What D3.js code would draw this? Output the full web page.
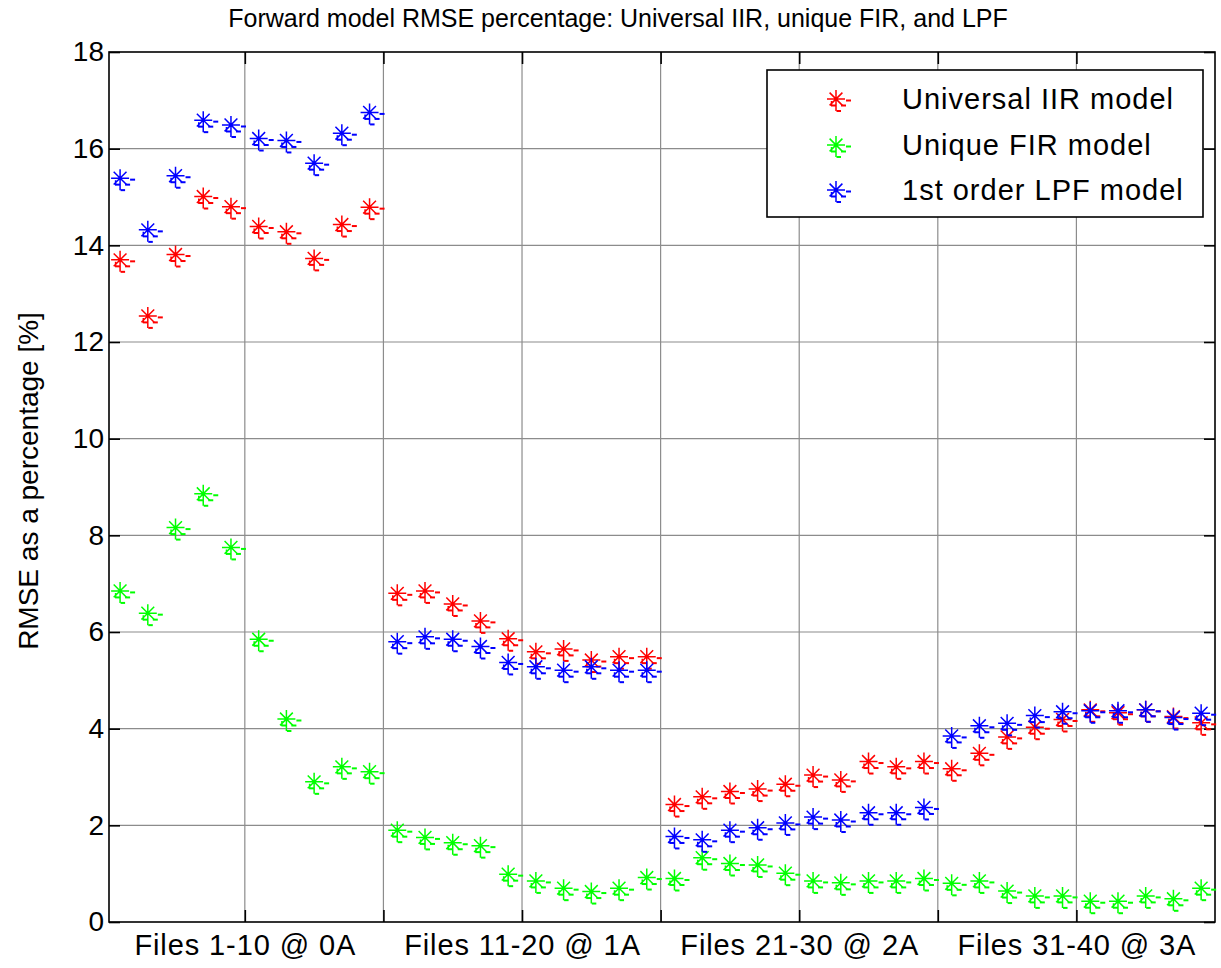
<!DOCTYPE html>
<html><head><meta charset="utf-8">
<script src="https://cdn.jsdelivr.net/npm/d3@7/dist/d3.min.js"></script>
<style>
body{margin:0;background:#fff}
text{font-family:"Liberation Sans",Arial,sans-serif;fill:#000}
</style></head>
<body>
<svg id="chart" width="1221" height="968"></svg>
<script>
// ---- data ----
const fileIndex = [1,2,3,4,5,6,7,8,9,10,11,12,13,14,15,16,17,18,19,20,
                   21,22,23,24,25,26,27,28,29,30,31,32,33,34,35,36,37,38,39,40];
const iirValues = [13.70,12.54,13.81,15.01,14.80,14.39,14.28,13.73,14.43,14.79,
                   6.80,6.85,6.58,6.23,5.86,5.59,5.65,5.42,5.49,5.49,
                   2.43,2.59,2.70,2.75,2.85,3.04,2.94,3.32,3.21,3.32,
                   3.17,3.49,3.83,4.03,4.19,4.39,4.33,4.39,4.25,4.12];
const firValues = [6.85,6.39,8.16,8.86,7.75,5.85,4.20,2.90,3.21,3.11,
                   1.90,1.75,1.64,1.58,0.99,0.85,0.70,0.63,0.70,0.92,
                   0.90,1.33,1.21,1.18,1.01,0.85,0.81,0.85,0.85,0.90,
                   0.80,0.85,0.64,0.54,0.54,0.43,0.43,0.54,0.48,0.70];
const lpfValues = [15.39,14.32,15.44,16.59,16.49,16.21,16.17,15.70,16.32,16.75,
                   5.80,5.90,5.85,5.70,5.37,5.28,5.21,5.28,5.21,5.21,
                   1.77,1.70,1.90,1.95,2.05,2.17,2.11,2.26,2.26,2.37,
                   3.85,4.06,4.11,4.27,4.35,4.37,4.37,4.39,4.23,4.32];
const seriesNames = ["Universal IIR model","Unique FIR model","1st order LPF model"];
const seriesColors = ["#ff0000","#00ff00","#0000ff"];
const xTickValues = [5.5,10.5,15.5,20.5,25.5,30.5,35.5];
const xTickLabels = ["Files 1-10 @ 0A","","Files 11-20 @ 1A","","Files 21-30 @ 2A","","Files 31-40 @ 3A"];
const yTickValues = [0,2,4,6,8,10,12,14,16,18];
const titleText = "Forward model RMSE percentage: Universal IIR, unique FIR, and LPF";
const yLabelText = "RMSE as a percentage [%]";

// ---- layout ----
const L = 109, R = 1215, T = 52, B = 922;
const svg = d3.select("#chart");
const x = d3.scaleLinear().domain([0.6, 40.5]).range([L, R]);
const y = d3.scaleLinear().domain([0, 18]).range([B, T]);

// grid
const grid = svg.append("g").attr("stroke", "#8c8c8c").attr("stroke-width", 1.2);
grid.selectAll("line.v").data(xTickValues).enter().append("line")
  .attr("x1", d => x(d)).attr("x2", d => x(d)).attr("y1", T).attr("y2", B);
grid.selectAll("line.h").data(yTickValues.filter(v => v > 0 && v < 18)).enter().append("line")
  .attr("x1", L).attr("x2", R).attr("y1", d => y(d)).attr("y2", d => y(d));

// axes
const fs = 29;
const ax = svg.append("g").attr("transform", `translate(0,${B})`)
  .call(d3.axisBottom(x).tickValues(xTickValues).tickFormat((d, i) => xTickLabels[i]).tickSizeInner(-12).tickSizeOuter(0).tickPadding(12));
const ay = svg.append("g").attr("transform", `translate(${L},0)`)
  .call(d3.axisLeft(y).tickValues(yTickValues).tickFormat(d3.format("d")).tickSizeInner(-11).tickSizeOuter(0).tickPadding(5));
const axT = svg.append("g").attr("transform", `translate(0,${T})`)
  .call(d3.axisTop(x).tickValues(xTickValues).tickFormat("").tickSizeInner(-12).tickSizeOuter(0));
const ayR = svg.append("g").attr("transform", `translate(${R},0)`)
  .call(d3.axisRight(y).tickValues(yTickValues).tickFormat("").tickSizeInner(-11).tickSizeOuter(0));
[ax, ay, axT, ayR].forEach(g => {
  g.select(".domain").remove();
  g.selectAll(".tick line").attr("stroke", "#000").attr("stroke-width", 1.6);
  g.selectAll(".tick text").attr("font-size", fs).attr("font-family", '"Liberation Sans",Arial,sans-serif').attr("fill", "#000");
});
ax.selectAll(".tick text").attr("dy", "0.71em").attr("letter-spacing", 0.9);
ay.selectAll(".tick text").attr("font-size", 28);

// box
svg.append("rect").attr("x", L).attr("y", T).attr("width", R - L).attr("height", B - T)
  .attr("fill", "none").attr("stroke", "#000").attr("stroke-width", 1.6);

// marker glyph
const starPath = "M-9,0H9M0,-9V12M-6.4,-6.4L6.4,6.4M-6.4,6.4L6.4,-6.4M-4.5,2V7";
const dashes = [[10,0.5,5,2],[-5,5.5,5,2],[5,5.5,5,2],[0.5,11,4.5,2]];
function drawMarker(g, color) {
  g.append("path").attr("d", starPath).attr("fill", "none").attr("stroke", color).attr("stroke-width", 1.5);
  dashes.forEach(r => g.append("rect").attr("x", r[0]).attr("y", r[1]).attr("width", r[2]).attr("height", r[3]).attr("fill", color));
}

const allSeries = [iirValues, firValues, lpfValues];
allSeries.forEach((vals, si) => {
  const g = svg.append("g");
  fileIndex.forEach((f, i) => {
    const m = g.append("g").attr("transform", `translate(${x(f)},${y(vals[i])})`);
    drawMarker(m, seriesColors[si]);
  });
});

// legend
const lg = svg.append("g");
lg.append("rect").attr("x", 767).attr("y", 70).attr("width", 436).attr("height", 147)
  .attr("fill", "#fff").attr("stroke", "#000").attr("stroke-width", 1.6);
const legY = [99, 145, 190];
seriesNames.forEach((n, i) => {
  const m = lg.append("g").attr("transform", `translate(836,${legY[i]})`);
  drawMarker(m, seriesColors[i]);
  lg.append("text").attr("x", 902).attr("y", legY[i] + 10).attr("font-size", fs)
    .attr("letter-spacing", 1.0).text(n);
});

// title & y label
svg.append("text").attr("x", 618).attr("y", 27).attr("text-anchor", "middle").attr("font-size", 25).text(titleText);
svg.append("text").attr("transform", `translate(38,${(T + B) / 2 - 6}) rotate(-90)`).attr("text-anchor", "middle")
  .attr("font-size", 28).text(yLabelText);
</script>
</body></html>
